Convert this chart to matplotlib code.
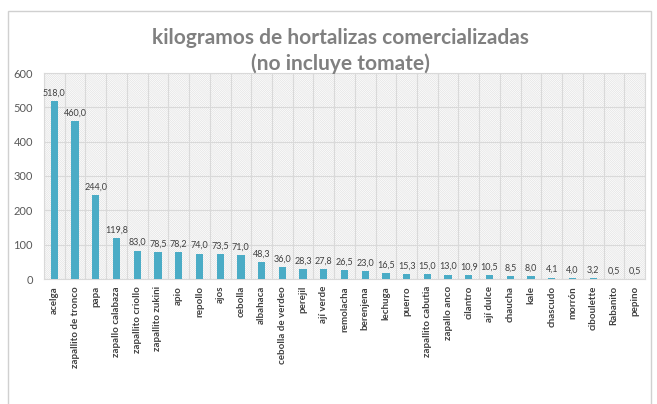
import matplotlib
matplotlib.use("Agg")
import matplotlib.pyplot as plt
from matplotlib.patches import Rectangle
import numpy as np

categories = ["acelga", "zapallito de tronco", "papa", "zapallo calabaza", "zapallito criollo",
              "zapallito zukini", "apio", "repollo", "ajos", "cebolla", "albahaca",
              "cebolla de verdeo", "perejil", "ají verde", "remolacha", "berenjena", "lechuga",
              "puerro", "zapallito cabutia", "zapallo anco", "cilantro", "ají dulce", "chaucha",
              "kale", "chascudo", "morrón", "ciboulette", "Rabanito", "pepino"]
values = [518.0, 460.0, 244.0, 119.8, 83.0, 78.5, 78.2, 74.0, 73.5, 71.0, 48.3, 36.0, 28.3,
          27.8, 26.5, 23.0, 16.5, 15.3, 15.0, 13.0, 10.9, 10.5, 8.5, 8.0, 4.1, 4.0, 3.2, 0.5, 0.5]
yticks = [0, 100, 200, 300, 400, 500, 600]
title = "kilogramos de hortalizas comercializadas\n(no incluye tomate)"

plt.rcParams['font.family'] = ['Lato', 'DejaVu Sans']
plt.rcParams['hatch.linewidth'] = 0.5

W, H = 657, 404
fig = plt.figure(figsize=(W / 100, H / 100), dpi=100)
fig.patch.set_facecolor('white')

# chart box border
fig.patches.append(Rectangle((8 / W, -0.01), (651 - 8) / W, (H - 11) / H + 0.01,
                             transform=fig.transFigure, fill=False,
                             edgecolor='#d0d0d0', linewidth=1.0))

left, right, top, bottom = 44, 645, 73, 279
ax = fig.add_axes([left / W, 1 - bottom / H, (right - left) / W, (bottom - top) / H])
ax.patch.set_facecolor('white')
ax.patch.set_hatch('\\' * 16)
ax.patch.set_edgecolor('#e2e2e2')
ax.patch.set_linewidth(0)

x = np.arange(len(categories))
ax.bar(x, values, width=0.35, color='#4BACC6', zorder=3)
for xi, v in zip(x, values):
    ax.text(xi, v + 10, f"{v:.1f}".replace('.', ','), ha='center', va='bottom',
            fontsize=6.5, color='#404040', zorder=4)

ax.set_xlim(-0.5, len(categories) - 0.5)
ax.set_ylim(0, 600)
ax.set_yticks(yticks)
ax.set_yticklabels([str(t) for t in yticks], fontsize=8, color='#595959')
ax.set_xticks(x)
ax.set_xticklabels(categories, rotation=90, fontsize=7, fontweight='bold', color='#404040')
ax.set_xticks(np.arange(-0.5, len(categories), 1), minor=True)
ax.tick_params(axis='both', which='both', length=0)
ax.tick_params(axis='x', pad=5)
ax.tick_params(axis='y', pad=8)
ax.grid(True, which='major', axis='y', color='#d9d9d9', linewidth=0.8, zorder=1)
ax.grid(True, which='minor', axis='x', color='#d9d9d9', linewidth=0.8, zorder=1)
for s in ax.spines.values():
    s.set_color('#d9d9d9')
    s.set_linewidth(0.8)

fig.text(340 / W, 1 - 51 / H, title, ha='center', va='center', fontsize=15,
         fontweight='bold', color='#808080', linespacing=1.3)

fig.savefig('out.png', dpi=100)
